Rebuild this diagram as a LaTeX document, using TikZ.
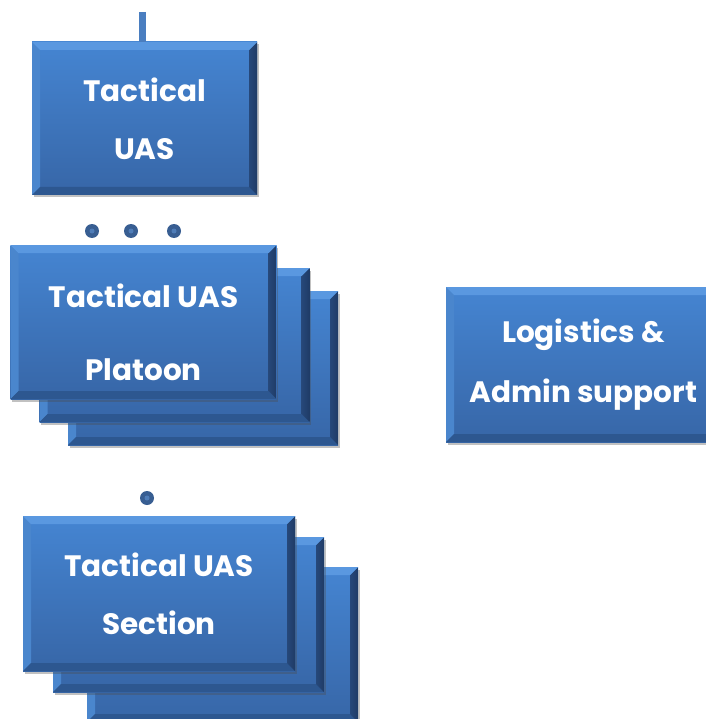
\documentclass[tikz,border=0pt]{standalone}
\usepackage{fontspec}
\setmainfont{Poppins}
\usetikzlibrary{shadows}
\definecolor{boxtop}{HTML}{4585D2}
\definecolor{boxbot}{HTML}{3766A7}
\definecolor{bevtop}{HTML}{5A98E0}
\definecolor{bevleft}{HTML}{4A86CD}
\definecolor{bevright}{HTML}{1F3B66}
\definecolor{bevbot}{HTML}{2D5790}
\definecolor{dotblue}{HTML}{385E92}
\definecolor{dotin}{HTML}{4F7DB8}
\definecolor{linkblue}{HTML}{4A7EC0}

\begin{document}
\begin{tikzpicture}[x=1pt,y=-1pt,
unitbox/.style={rectangle, inner sep=0pt, text=white, align=center,
  top color=boxtop, bottom color=boxbot,
  drop shadow={shadow xshift=1.5pt, shadow yshift=-2.5pt, opacity=0.35, fill=black!70},
  font=\fontsize{29.5}{58}\selectfont\bfseries,
  path picture={
    \coordinate (nw) at (path picture bounding box.north west);
    \coordinate (ne) at (path picture bounding box.north east);
    \coordinate (sw) at (path picture bounding box.south west);
    \coordinate (se) at (path picture bounding box.south east);
    \fill[bevleft] (nw) -- ([shift={(8pt,-8pt)}]nw) -- ([shift={(8pt,8pt)}]sw) -- (sw) -- cycle;
    \fill[bevbot] (sw) -- ([shift={(8pt,8pt)}]sw) -- ([shift={(-8pt,8pt)}]se) -- (se) -- cycle;
    \shade[left color=bevright!70!boxbot, right color=bevright] (ne) -- ([shift={(-8pt,-8pt)}]ne) -- ([shift={(-8pt,8pt)}]se) -- (se) -- cycle;
    \fill[bevtop] (nw) -- ([shift={(8pt,-8pt)}]nw) -- ([shift={(-8pt,-8pt)}]ne) -- (ne) -- cycle;
  }},
dotnode/.style={circle, fill=dotblue, minimum size=14pt, inner sep=0pt,
  path picture={\fill[dotin] (path picture bounding box.center) circle (2.5pt);}}
]
    \useasboundingbox (0,0) rectangle (705,719);

    \coordinate (up) at (142,12);
    \node [unitbox, minimum width=225pt, minimum height=153pt] (tuas) at (144.5,118.5) {Tactical\\UAS};
    \draw [linkblue, line width=7pt] (up) -- (up |- tuas.north);

    \node [dotnode] (p1) at (92,231) {};
    \node [dotnode] (p2) at (131,231) {};
    \node [dotnode] (p3) at (174,231) {};

    % platoons
    \node [unitbox, minimum width=270pt, minimum height=154pt] (pl3) at (203,368) {};
    \node [unitbox, minimum width=270pt, minimum height=154pt] (pl2) at (174.5,345) {};
    \node [unitbox, minimum width=266pt, minimum height=154pt] (pl1) at (143.5,322) {\rule{0pt}{45pt}Tactical UAS\\[15pt]Platoon};

    \node [unitbox, minimum width=275pt, minimum height=155pt] (log) at (583.5,364.5) {Logistics \&\\[2pt]Admin support};

    \node [dotnode] (s0) at (147,498) {};

    % sections
    \node [unitbox, minimum width=271pt, minimum height=155pt] (se3) at (222.5,644.5) {};
    \node [unitbox, minimum width=271pt, minimum height=155pt] (se2) at (188.5,614.5) {};
    \node [unitbox, minimum width=272pt, minimum height=155pt] (se1) at (159,593.5) {Tactical UAS\\Section};
\end{tikzpicture}
\end{document}
